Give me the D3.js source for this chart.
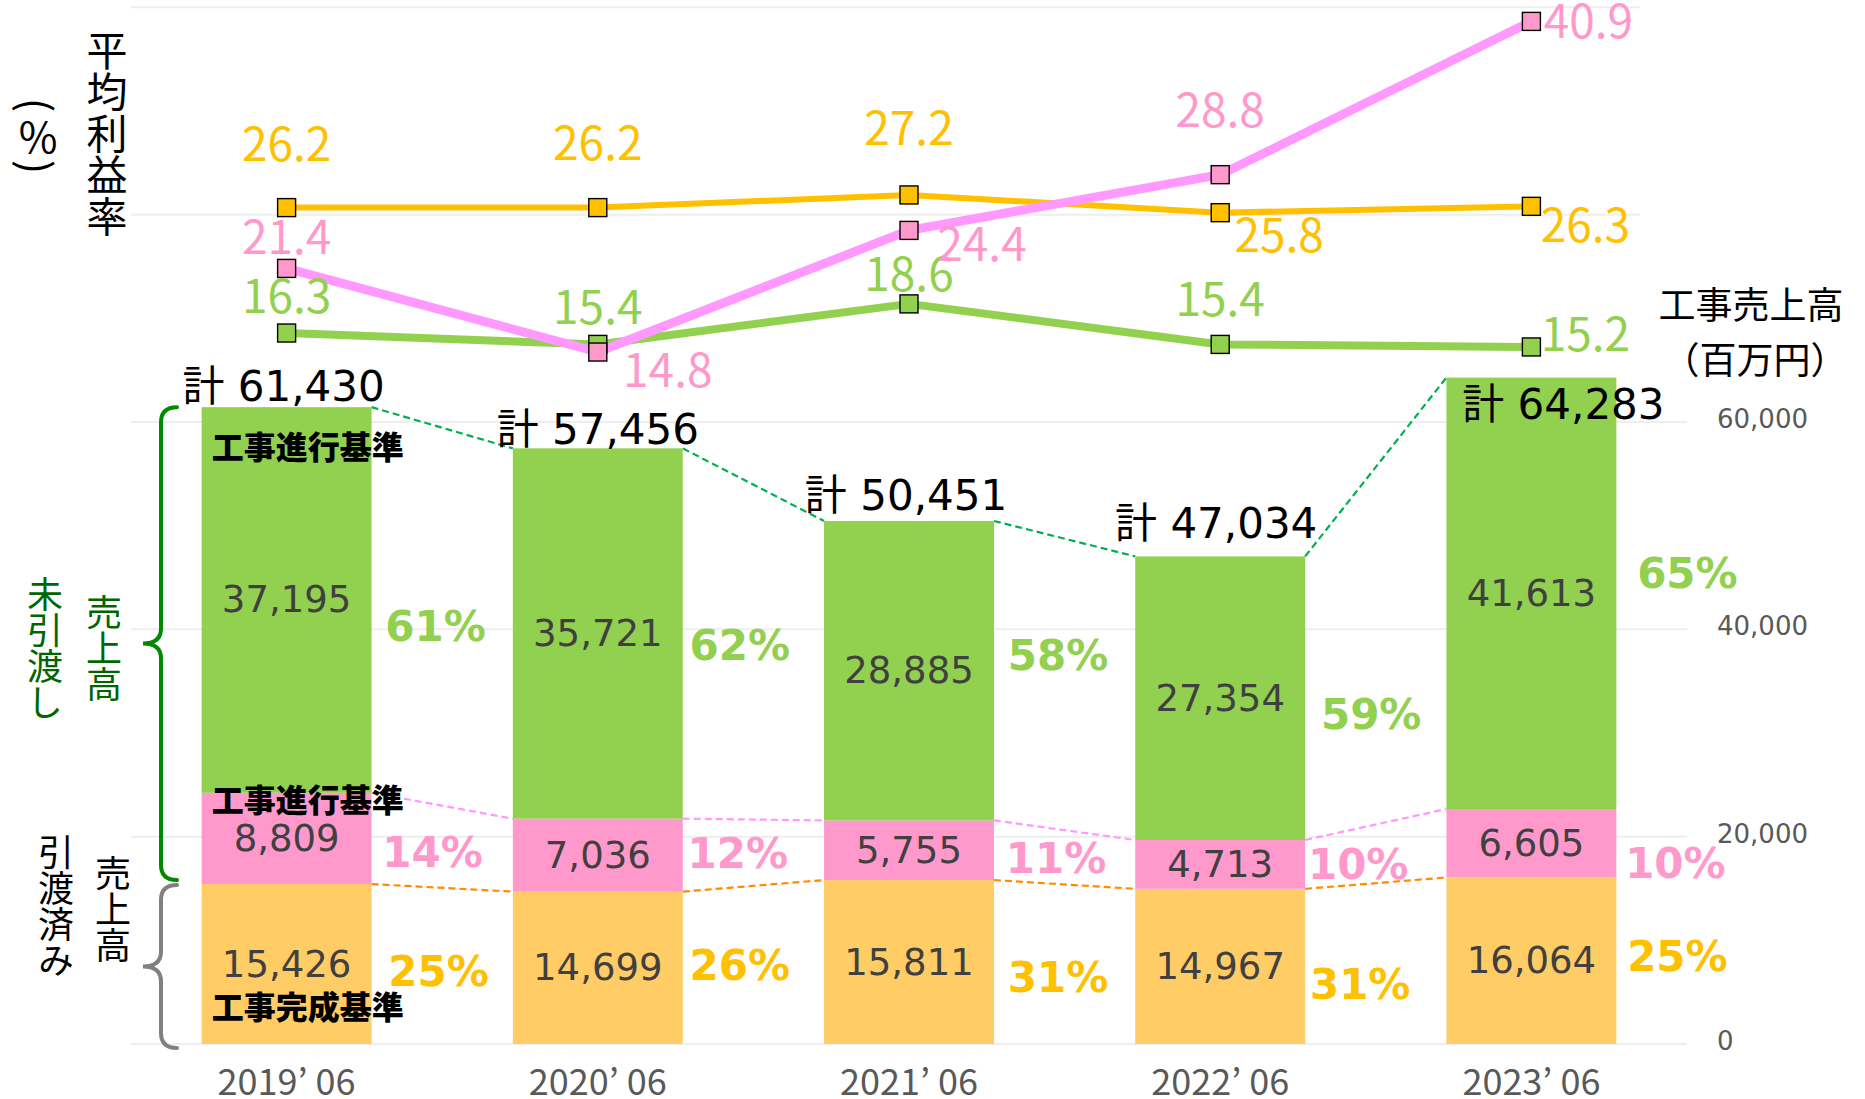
<!DOCTYPE html>
<html lang="ja">
<head>
<meta charset="utf-8">
<script src="https://cdn.jsdelivr.net/npm/d3@7"></script>
<style>
  html, body { margin: 0; padding: 0; background: #fff; }
  svg { display: block; }
</style>
</head>
<body>
<div id="chart"></div>
<script>
// ---- data ----
const years = ["2019’ 06", "2020’ 06", "2021’ 06", "2022’ 06", "2023’ 06"];
// 引渡済み 売上高 (工事完成基準)
const salesCompleted = [15426, 14699, 15811, 14967, 16064];
// 未引渡し 売上高 (工事進行基準) lower part
const salesProgressPink = [8809, 7036, 5755, 4713, 6605];
// 未引渡し 売上高 (工事進行基準) upper part
const salesProgressGreen = [37195, 35721, 28885, 27354, 41613];
const salesTotal = [61430, 57456, 50451, 47034, 64283];
const shareCompleted = [25, 26, 31, 31, 25];
const shareProgressPink = [14, 12, 11, 10, 10];
const shareProgressGreen = [61, 62, 58, 59, 65];
// 平均利益率 (%)
const marginOrange = [26.2, 26.2, 27.2, 25.8, 26.3];
const marginPink = [21.4, 14.8, 24.4, 28.8, 40.9];
const marginGreen = [16.3, 15.4, 18.6, 15.4, 15.2];
const yTicks = [0, 20000, 40000, 60000, 80000, 100000];

// ---- layout ----
const W = 1865, H = 1099;
const cjk = "'Noto Sans CJK JP', sans-serif";
const latin = "'DejaVu Sans', 'Noto Sans CJK JP', sans-serif";

const svg = d3.select("#chart").append("svg")
    .attr("width", W)
    .attr("height", H);

const x = d3.scaleBand()
    .domain(years)
    .range([131, 1687])
    .paddingInner(0.454)
    .paddingOuter(0.227);
const bw = x.bandwidth();
const cx = d => x(d) + bw / 2;

const y = d3.scaleLinear().domain([0, 100000]).range([1044, 7.3]);
const yPct = d3.scaleLinear().domain([0, 40]).range([539.5, 32.8]);

const rows = years.map((yr, i) => ({
    year: yr,
    completed: salesCompleted[i],
    pink: salesProgressPink[i],
    green: salesProgressGreen[i]
}));
const keys = ["completed", "pink", "green"];
const stacked = d3.stack().keys(keys)(rows);

const barColor = {completed: "#FFCC66", pink: "#FF99CC", green: "#92D050"};
const pctColor = {completed: "#FFC000", pink: "#FF99CC", green: "#92D050"};
const dashColor = {completed: "#FF8C00", pink: "#FF99FF", green: "#00B050"};
const shares = {completed: shareCompleted, pink: shareProgressPink, green: shareProgressGreen};
// label nudges (px) for the share labels, per year
const shareNudge = {
    green: [[149, 27], [142, 12], [149, -15], [151, 16], [156, -20]],
    pink: [[146, 14], [140, -2], [147, 8], [138, 0], [144, 20]],
    completed: [[152, 7], [142, -2], [149, 15], [140, 18], [146, -4]]
};
const totalNudge = [[-3, -6], [0, -4], [-3, -11], [-4, -18], [32, 41]];

// gridlines
svg.append("g")
    .selectAll("line")
    .data(yTicks)
    .join("line")
    .attr("x1", 131)
    .attr("x2", d => d > 60000 ? 1640 : 1687)
    .attr("y1", d => y(d))
    .attr("y2", d => y(d))
    .attr("stroke", "#EEEEEE")
    .attr("stroke-width", 2);

// right axis labels
svg.append("g")
    .attr("font-family", latin)
    .attr("font-size", 26)
    .attr("fill", "#595959")
    .selectAll("text")
    .data(yTicks.filter(d => d <= 60000))
    .join("text")
    .attr("x", 1717)
    .attr("y", d => y(d) - 3)
    .attr("dominant-baseline", "central")
    .text(d3.format(","));

// dashed connectors between bars
stacked.forEach(layer => {
    svg.append("g")
        .selectAll("line")
        .data(d3.pairs(layer))
        .join("line")
        .attr("x1", d => x(d[0].data.year) + bw)
        .attr("y1", d => y(d[0][1]))
        .attr("x2", d => x(d[1].data.year))
        .attr("y2", d => y(d[1][1]))
        .attr("stroke", dashColor[layer.key])
        .attr("stroke-width", 2.2)
        .attr("stroke-dasharray", "7,4");
});

// bars
svg.append("g")
    .selectAll("g")
    .data(stacked)
    .join("g")
    .attr("fill", d => barColor[d.key])
    .selectAll("rect")
    .data(d => d)
    .join("rect")
    .attr("x", d => x(d.data.year))
    .attr("y", d => y(d[1]))
    .attr("width", bw)
    .attr("height", d => y(d[0]) - y(d[1]));

// value labels inside bars
svg.append("g")
    .attr("font-family", latin)
    .attr("font-size", 37)
    .attr("fill", "#404040")
    .attr("text-anchor", "middle")
    .selectAll("g")
    .data(stacked)
    .join("g")
    .selectAll("text")
    .data(d => d)
    .join("text")
    .attr("x", d => cx(d.data.year))
    .attr("y", d => (y(d[0]) + y(d[1])) / 2)
    .attr("dominant-baseline", "central")
    .text(d => d3.format(",")(d[1] - d[0]));

// share labels to the right of bars
stacked.forEach(layer => {
    svg.append("g")
        .attr("font-family", latin)
        .attr("font-weight", "bold")
        .attr("font-size", 42)
        .attr("fill", pctColor[layer.key])
        .attr("text-anchor", "middle")
        .selectAll("text")
        .data(layer)
        .join("text")
        .attr("x", (d, i) => cx(d.data.year) + shareNudge[layer.key][i][0])
        .attr("y", (d, i) => (y(d[0]) + y(d[1])) / 2 + shareNudge[layer.key][i][1])
        .attr("dominant-baseline", "central")
        .text((d, i) => shares[layer.key][i] + "%");
});

// totals
svg.append("g")
    .attr("font-family", latin)
    .attr("font-size", 42)
    .attr("fill", "#000")
    .attr("text-anchor", "middle")
    .selectAll("text")
    .data(years)
    .join("text")
    .attr("x", (d, i) => cx(d) + totalNudge[i][0])
    .attr("y", (d, i) => y(salesTotal[i]) + totalNudge[i][1])
    .text((d, i) => "計 " + d3.format(",")(salesTotal[i]));

// basis labels on the first bar
const first = rows[0];
const basis = [
    {t: "工事進行基準", y: y(salesTotal[0]) + 38},
    {t: "工事進行基準", y: y(first.completed + first.pink) + 5},
    {t: "工事完成基準", y: y(0) - 39}
];
svg.append("g")
    .attr("font-family", cjk)
    .attr("font-weight", 900)
    .attr("font-size", 32)
    .attr("fill", "#000")
    .selectAll("text")
    .data(basis)
    .join("text")
    .attr("x", x(years[0]) + 10)
    .attr("y", d => d.y)
    .attr("dominant-baseline", "central")
    .text(d => d.t);

// braces
function brace(y0, y1, color) {
    const xv = 161, xe = 177, xt = 143, r = 15;
    const ym = (y0 + y1) / 2;
    const p = d3.path();
    p.moveTo(xe, y0);
    p.quadraticCurveTo(xv, y0, xv, y0 + r);
    p.lineTo(xv, ym - r);
    p.quadraticCurveTo(xv, ym, xt, ym);
    p.quadraticCurveTo(xv, ym, xv, ym + r);
    p.lineTo(xv, y1 - r);
    p.quadraticCurveTo(xv, y1, xe, y1);
    svg.append("path")
        .attr("d", p.toString())
        .attr("fill", "none")
        .attr("stroke", color)
        .attr("stroke-width", 4)
        .attr("stroke-linecap", "round");
}
brace(y(salesTotal[0]), y(first.completed) - 4, "#008A00");
brace(y(first.completed) + 1, y(0) + 4, "#808080");

// vertical text (one text element each)
function vText(str, x0, yc, size, spacing, color) {
    svg.append("text")
        .attr("x", x0)
        .attr("y", yc)
        .attr("font-family", cjk)
        .attr("font-size", size)
        .attr("fill", color)
        .attr("text-anchor", "middle")
        .style("writing-mode", "vertical-rl")
        .style("letter-spacing", spacing + "px")
        .text(str);
}
vText("平均利益率", 107, 133.5, 41, 0.4, "#000");
vText("未引渡し", 45, 648.5, 36, 0.3, "#006600");
vText("売上高", 104, 648.5, 36, 0.3, "#006600");
vText("引渡済み", 56, 906.5, 36, 0.3, "#000");
vText("売上高", 113, 909, 36, 0, "#000");

// (%) written vertically
const pctUnit = svg.append("g")
    .attr("font-family", cjk)
    .attr("font-size", 42)
    .attr("fill", "#000")
    .attr("text-anchor", "middle");
pctUnit.append("text")
    .attr("transform", "translate(38,105) rotate(90)")
    .attr("dominant-baseline", "central")
    .text("(");
pctUnit.append("text")
    .attr("x", 38).attr("y", 134)
    .attr("dominant-baseline", "central")
    .text("%");
pctUnit.append("text")
    .attr("transform", "translate(38,167) rotate(90)")
    .attr("dominant-baseline", "central")
    .text(")");

// right-hand unit label
svg.append("text")
    .attr("x", 1751).attr("y", 303)
    .attr("font-family", cjk).attr("font-size", 37)
    .attr("text-anchor", "middle").attr("dominant-baseline", "central")
    .text("工事売上高");
svg.append("text")
    .attr("x", 1755).attr("y", 358)
    .attr("font-family", cjk).attr("font-size", 37)
    .attr("text-anchor", "middle").attr("dominant-baseline", "central")
    .text("（百万円）");

// x labels
svg.append("g")
    .attr("font-family", cjk)
    .attr("font-size", 36)
    .attr("fill", "#595959")
    .attr("text-anchor", "middle")
    .selectAll("text")
    .data(years)
    .join("text")
    .attr("x", d => cx(d))
    .attr("y", 1079)
    .attr("dominant-baseline", "central")
    .text(d => d);

// margin lines
const lineSeries = [
    {name: "green", values: marginGreen, line: "#92D050", marker: "#92D050", label: "#92D050", width: 8,
        offsets: [[0, -40], [0, -40], [0, -33], [0, -48], [54, -16]]},
    {name: "orange", values: marginOrange, line: "#FFC000", marker: "#FFC000", label: "#FFC000", width: 6,
        offsets: [[0, -67], [0, -68], [0, -70], [59, 19], [54, 16]]},
    {name: "pink", values: marginPink, line: "#FF99FF", marker: "#FF99CC", label: "#FF99CC", width: 9,
        offsets: [[0, -34], [70, 15], [73, 11], [0, -68], [57, -3]]}
];

const line = d3.line()
    .x((d, i) => cx(years[i]))
    .y(d => yPct(d));

lineSeries.forEach(s => {
    svg.append("path")
        .datum(s.values)
        .attr("d", line)
        .attr("fill", "none")
        .attr("stroke", s.line)
        .attr("stroke-width", s.width)
        .attr("stroke-linejoin", "round");
});

const mk = 18;
lineSeries.forEach(s => {
    svg.append("g")
        .selectAll("rect")
        .data(s.values)
        .join("rect")
        .attr("x", (d, i) => cx(years[i]) - mk / 2)
        .attr("y", d => yPct(d) - mk / 2)
        .attr("width", mk)
        .attr("height", mk)
        .attr("fill", s.marker)
        .attr("stroke", "#000")
        .attr("stroke-width", 1.4);
});

lineSeries.forEach(s => {
    svg.append("g")
        .attr("font-family", cjk)
        .attr("font-size", 46)
        .attr("fill", s.label)
        .attr("text-anchor", "middle")
        .selectAll("text")
        .data(s.values)
        .join("text")
        .attr("x", (d, i) => cx(years[i]) + s.offsets[i][0])
        .attr("y", (d, i) => yPct(d) + s.offsets[i][1])
        .attr("dominant-baseline", "central")
        .text(d => d3.format(".1f")(d));
});
</script>
</body>
</html>
